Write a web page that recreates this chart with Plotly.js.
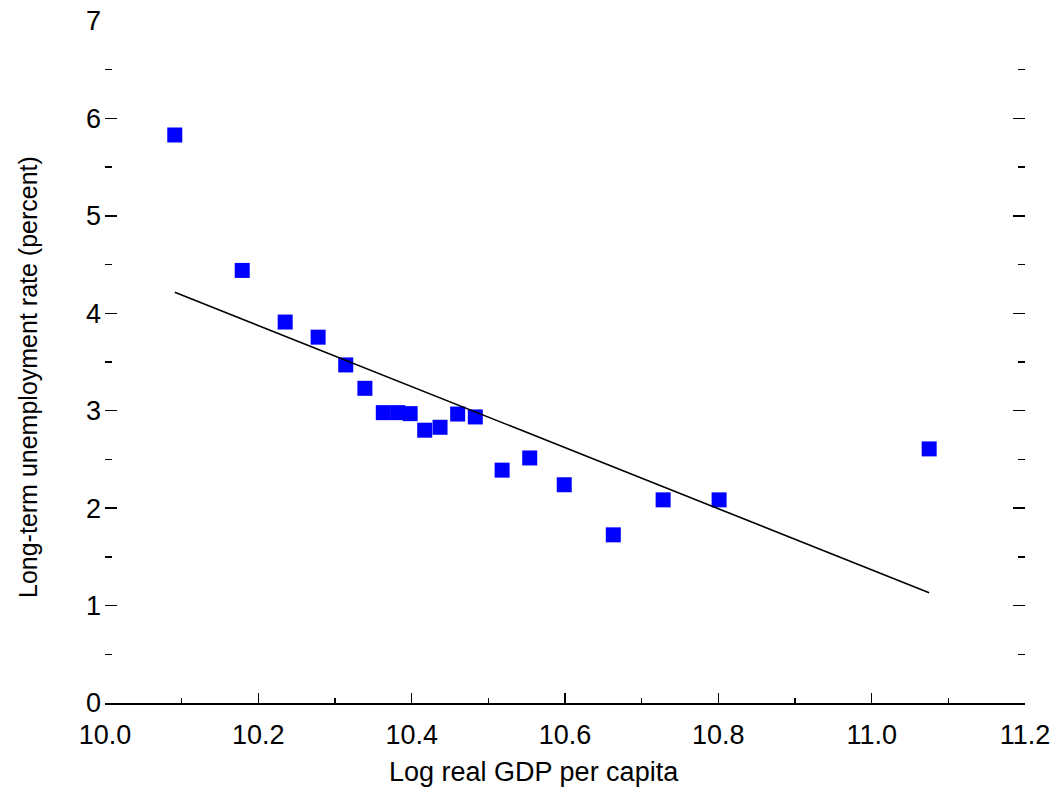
<!DOCTYPE html>
<html>
<head>
<meta charset="utf-8">
<script src="https://cdn.plot.ly/plotly-3.0.1.min.js"></script>
<style>html,body{margin:0;padding:0;background:#fff;}#chart{width:1056px;height:795px;}</style>
</head>
<body>
<div id="chart"></div>
<script>
// Observed data: log real GDP per capita vs long-term unemployment rate (percent)
const logGDP = [10.091, 10.179, 10.235, 10.278, 10.314, 10.339, 10.363, 10.382, 10.398, 10.417,
                10.437, 10.460, 10.483, 10.518, 10.554, 10.599, 10.663, 10.728, 10.801, 11.075];
const ltUnemp = [5.83, 4.44, 3.91, 3.755, 3.47, 3.23, 2.98, 2.98, 2.97, 2.80,
                 2.83, 2.966, 2.936, 2.39, 2.515, 2.24, 1.726, 2.085, 2.085, 2.608];
// Fitted regression line endpoints
const fitX = [10.091, 11.075];
const fitY = [4.216, 1.132];

const xTitle = 'Log real GDP per capita';
const yTitle = 'Long-term unemployment rate (percent)';

const FONT = 'Liberation Sans, Arial, sans-serif';

const traces = [
  {
    x: logGDP, y: ltUnemp, type: 'scatter', mode: 'markers',
    marker: {symbol: 'square', size: 15, color: '#0000FF', line: {width: 0}},
    hoverinfo: 'x+y', showlegend: false
  },
  {
    x: fitX, y: fitY, type: 'scatter', mode: 'lines',
    line: {color: '#000000', width: 1.6},
    hoverinfo: 'skip', showlegend: false
  }
];

const layout = {
  width: 1056, height: 795,
  margin: {l: 105, r: 31, t: 21, b: 92},
  paper_bgcolor: '#ffffff', plot_bgcolor: '#ffffff',
  font: {family: FONT, size: 27, color: '#000000'},
  xaxis: {
    range: [10.0, 11.2], dtick: 0.2, tick0: 10.0, tickformat: '.1f',
    showgrid: false, zeroline: false,
    showline: true, linecolor: '#000', linewidth: 1.5,
    ticks: 'inside', ticklen: 10, tickwidth: 1.5, tickcolor: '#000',
    minor: {dtick: 0.1, ticks: 'inside', ticklen: 5, tickwidth: 1.5, tickcolor: '#000', showgrid: false},
    tickfont: {family: FONT, size: 27, color: '#000'},
    ticklabelstandoff: 7,
    fixedrange: true
  },
  yaxis: {
    range: [0, 7], dtick: 1, tick0: 0,
    showgrid: false, zeroline: false,
    showline: false, mirror: 'ticks',
    ticks: 'inside', ticklen: 12, tickwidth: 1.5, tickcolor: '#000',
    minor: {dtick: 0.5, ticks: 'inside', ticklen: 7, tickwidth: 1.5, tickcolor: '#000', showgrid: false},
    tickfont: {family: FONT, size: 27, color: '#000'},
    ticklabelstandoff: 3,
    fixedrange: true
  },
  annotations: [
    {text: xTitle, xref: 'paper', yref: 'paper', x: 0.466, y: -0.101,
     xanchor: 'center', yanchor: 'middle', showarrow: false,
     font: {family: FONT, size: 27, color: '#000'}},
    {text: yTitle, xref: 'paper', yref: 'paper', x: -0.0837, y: 0.478,
     xanchor: 'center', yanchor: 'middle', showarrow: false, textangle: -90,
     font: {family: FONT, size: 25, color: '#000'}}
  ]
};

Plotly.newPlot('chart', traces, layout, {displayModeBar: false, staticPlot: true});
</script>
</body>
</html>
